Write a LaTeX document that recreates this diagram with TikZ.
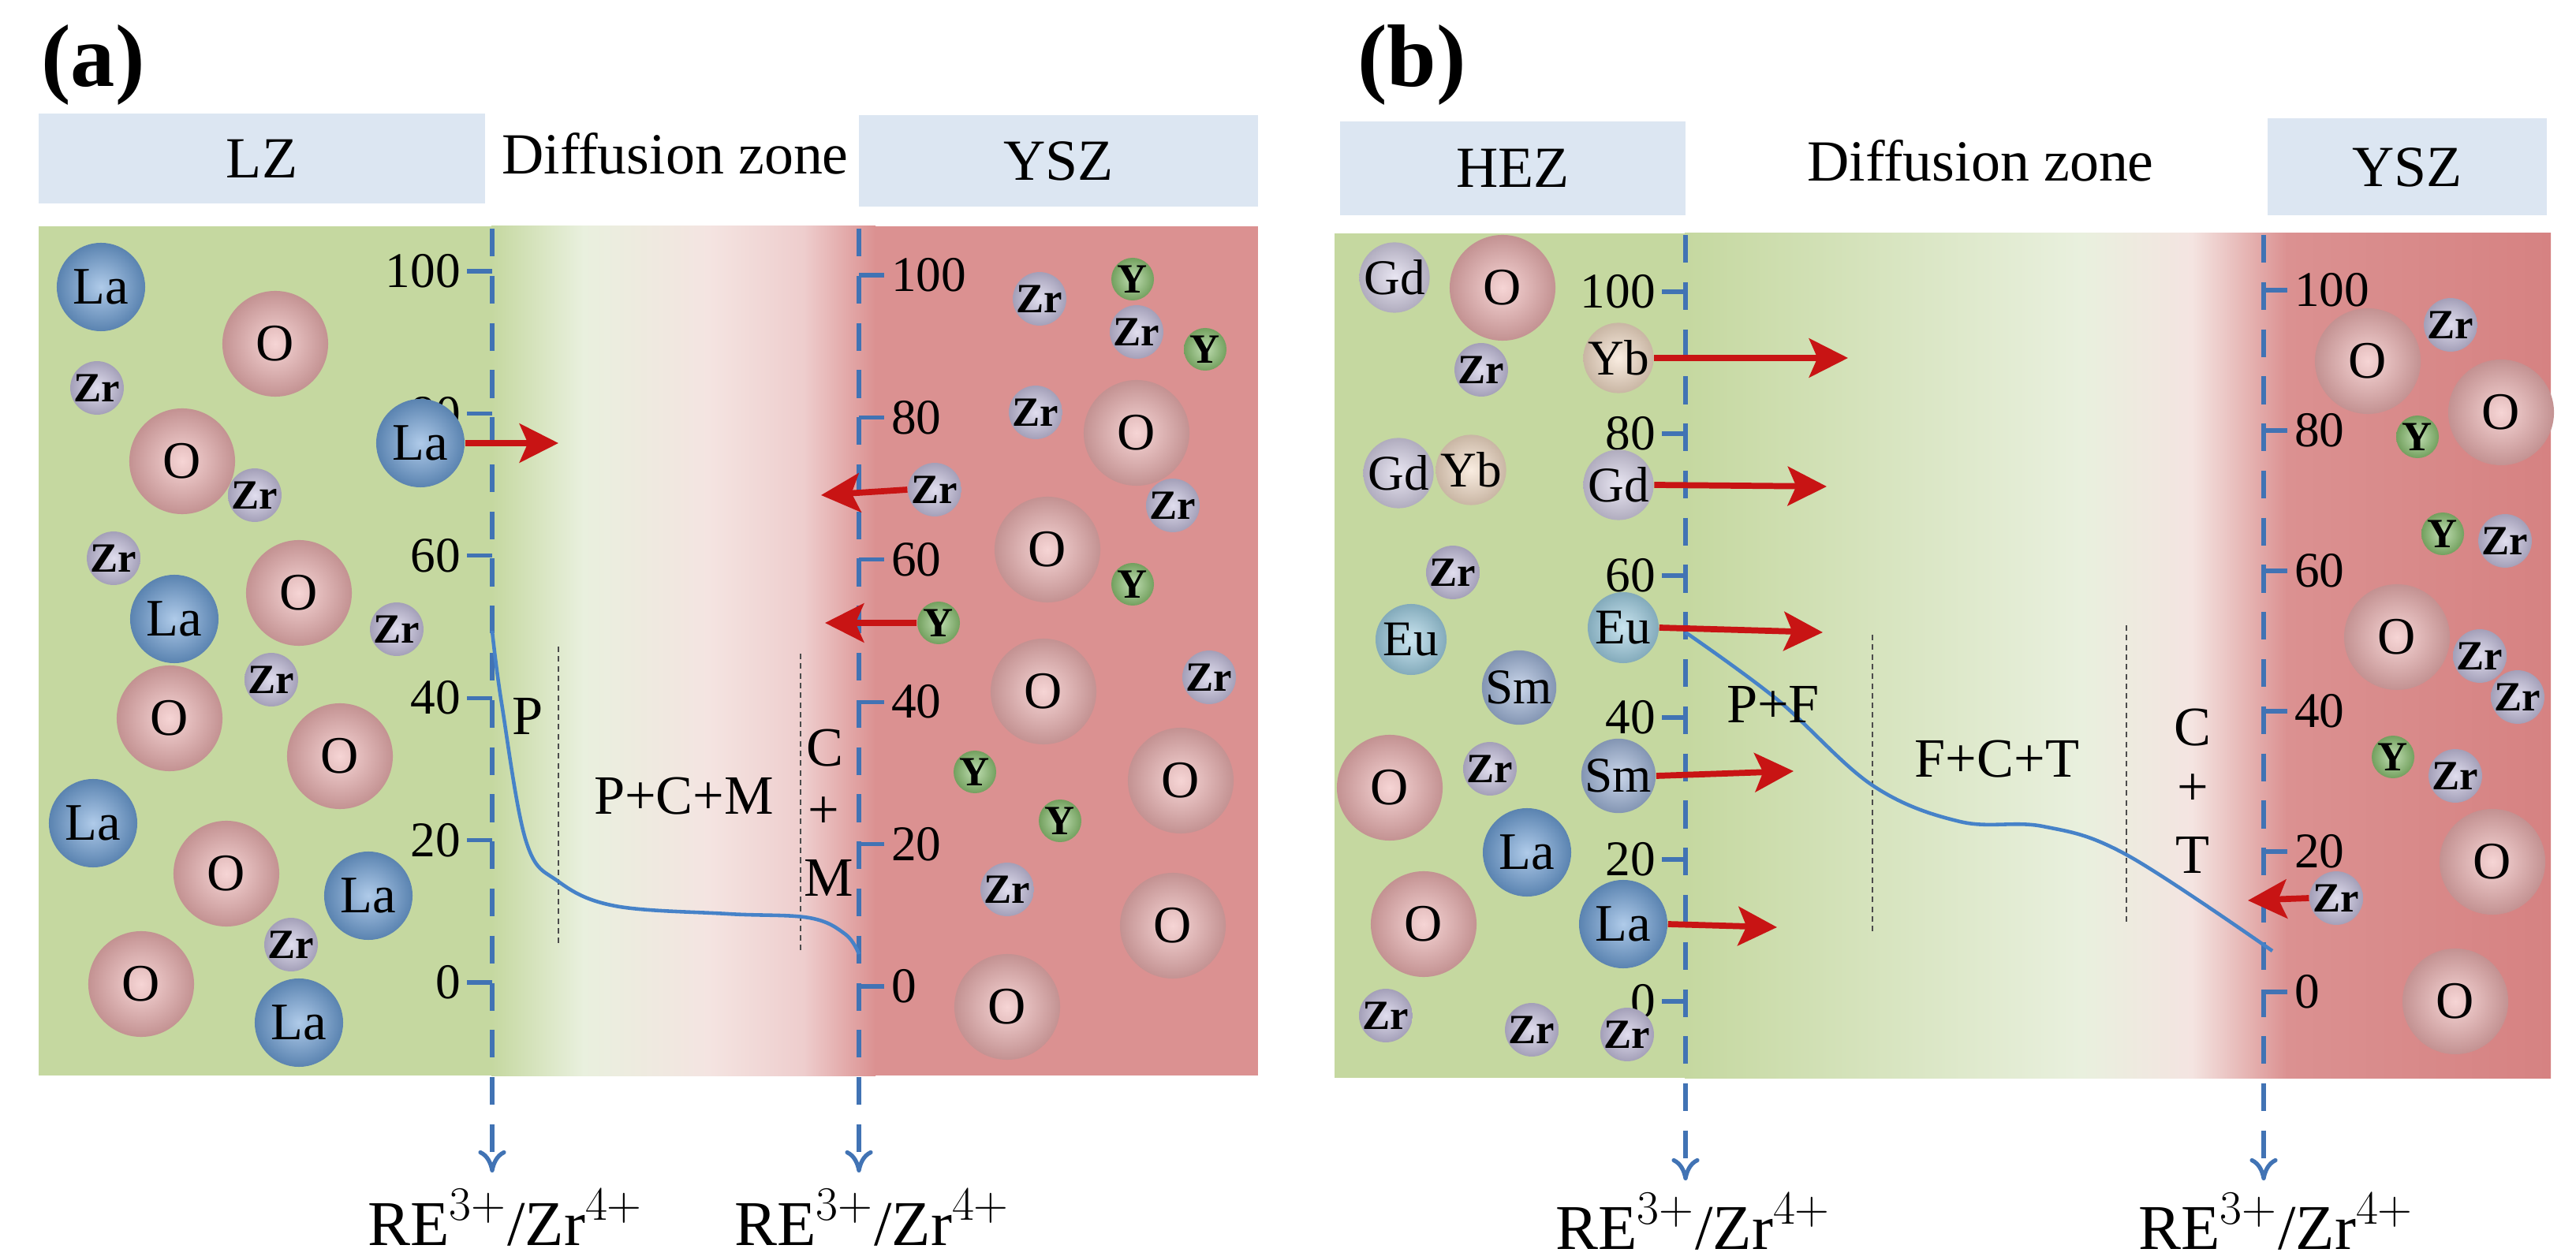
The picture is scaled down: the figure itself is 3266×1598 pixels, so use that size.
\documentclass[tikz,border=0pt]{standalone}
\usepackage{fontspec}
\setmainfont{Liberation Serif}
\usetikzlibrary{arrows.meta}
\definecolor{grn}{RGB}{197,216,160}
\definecolor{grnL}{RGB}{233,240,222}
\definecolor{pnkL}{RGB}{244,228,225}
\definecolor{pnk}{RGB}{238,205,205}
\definecolor{rd}{RGB}{219,145,145}
\definecolor{rdD}{RGB}{214,130,130}
\definecolor{hdr}{RGB}{220,230,242}
\definecolor{axb}{RGB}{65,115,180}
\definecolor{crv}{RGB}{70,130,200}
\definecolor{arr}{RGB}{200,20,20}
\definecolor{cLa}{RGB}{110,160,215}
\definecolor{cO}{RGB}{238,178,178}
\definecolor{cZr}{RGB}{200,195,225}
\definecolor{cY}{RGB}{140,195,115}
\definecolor{cGd}{RGB}{215,210,232}
\definecolor{cYb}{RGB}{245,222,200}
\definecolor{cEu}{RGB}{160,208,228}
\definecolor{cSm}{RGB}{160,182,218}
\newcommand{\fs}[1]{\fontsize{#1}{#1}\selectfont}
\tikzset{
 x=0.01cm,y=-0.01cm,
 hbox/.style={fill=hdr,draw=none},
 htxt/.style={font=\fs{21pt}},
 ball/.style={circle,inner sep=0pt,draw=none,shading=radial,inner color=#1!55!white,outer color=#1!82!black},
 La/.style={ball=cLa,minimum size=1.12cm,font=\fs{19pt}},
 O/.style={ball=cO,minimum size=1.34cm,font=\fs{19pt}},
 Zr/.style={ball=cZr,minimum size=0.5cm,font=\bfseries\fs{15pt}},
 Y/.style={ball=cY,minimum size=0.54cm,font=\bfseries\fs{15pt}},
 Gd/.style={ball=cGd,minimum size=0.8cm,font=\fs{18pt}},
 Yb/.style={ball=cYb,minimum size=0.76cm,font=\fs{18pt}},
 Eu/.style={ball=cEu,minimum size=0.9cm,font=\fs{18pt}},
 Sm/.style={ball=cSm,minimum size=0.94cm,font=\fs{18pt}},
 axis/.style={draw=axb,line width=1.5pt,dash pattern=on 10pt off 7pt,-{To[length=8pt,width=10pt]}},
 tick/.style={draw=axb,line width=1.5pt},
 tl/.style={font=\fs{18pt},inner sep=1pt},
 redarr/.style={draw=arr,line width=2.2pt,-{Stealth[length=14pt,width=14pt,inset=3pt]}},
 thin/.style={draw=black!70,line width=0.5pt,dash pattern=on 2pt off 1.5pt},
 curve/.style={draw=crv,line width=1.3pt},
 lab/.style={font=\fs{20pt},inner sep=0pt},
 re/.style={font=\fs{23pt}},
}
\begin{document}
\begin{tikzpicture}
\useasboundingbox (0,0) rectangle (3266,1598);
\fill[white] (0,0) rectangle (3266,1598);
% ================= panel (a) =================
\node[font=\bfseries\fs{32pt}] (ta) at (118,82) {(a)};
\fill[hbox] (49,144) rectangle (615,258);
\node[htxt] (tLZ) at (332,201) {LZ};
\node[htxt] (tDa) at (856,195) {Diffusion zone};
\fill[hbox] (1089,146) rectangle (1595,262);
\node[htxt] (tYa) at (1342,204) {YSZ};
\fill[grn] (49,287) rectangle (624,1364);
\shade[left color=grn,right color=grnL] (623,287) rectangle (740,1364);
\shade[left color=grnL,right color=pnkL] (739,287) rectangle (900,1364);
\shade[left color=pnkL,right color=pnk] (899,287) rectangle (1020,1364);
\shade[left color=pnk,right color=rd] (1019,287) rectangle (1110,1364);
\fill[rd] (1109,287) rectangle (1595,1364);
% axes
\coordinate (aL0) at (624,290); \coordinate (aL1) at (624,1487);
\coordinate (aR0) at (1089,290); \coordinate (aR1) at (1089,1487);
\draw[axis] (aL0) -- (aL1);
\draw[axis] (aR0) -- (aR1);
\foreach \v [count=\i from 0] in {0,20,40,60,80,100}{
  \draw[tick] (592,1246-180.4*\i) -- (624,1246-180.4*\i);
  \node[tl,anchor=east] (aLt\i) at (588,1246-180.4*\i) {\v};
  \draw[tick] (1089,1251-180.4*\i) -- (1121,1251-180.4*\i);
  \node[tl,anchor=west] (aRt\i) at (1126,1251-180.4*\i) {\v};
}
\node[re] (aRE1) at (641,1544) {RE$^{3+}$/Zr$^{4+}$};
\node[re] (aRE2) at (1106,1544) {RE$^{3+}$/Zr$^{4+}$};
% zone lines and curve
\draw[thin] (708,820) -- (708,1200);
\draw[thin] (1015,829) -- (1015,1210);
\draw[curve] plot[smooth,tension=0.6] coordinates {(624,800) (636,892) (667,1067) (708,1118) (780,1149) (923,1159) (1026,1164) (1072,1185) (1089,1210)};
\node[lab] (aP) at (669,908) {P};
\node[lab] (aPCM) at (867,1010) {P+C+M};
\node[lab] (aC) at (1046,949) {C};
\node[lab] (aPl) at (1044,1031) {+};
\node[lab] (aM) at (1051,1113) {M};
% balls left
\foreach \x/\y [count=\i] in {128/364,533/562,221/785,118/1044,467/1136,379/1297}
  \node[La] (aLa\i) at (\x,\y) {La};
\foreach \x/\y [count=\i] in {349/436,231/585,379/752,215/911,431/959,287/1108,179/1248,1441/549,1328/697,1323/877,1497/990,1487/1174,1277/1277}
  \node[O] (aO\i) at (\x,\y) {O};
\foreach \x/\y [count=\i] in {123/492,323/628,144/708,503/798,344/862,369/1198,1318/379,1441/421,1313/523,1185/621,1487/641,1533/859,1277/1128}
  \node[Zr] (aZr\i) at (\x,\y) {Zr};
\foreach \x/\y [count=\i] in {1436/354,1528/443,1436/741,1190/790,1236/979,1344/1041}
  \node[Y] (aY\i) at (\x,\y) {Y};
\coordinate (aA1) at (708,562);
\coordinate (aA2) at (1041,628);
\coordinate (aA3) at (1046,790);
\draw[redarr] (aLa2.east) -- (aA1);
\draw[redarr] (aZr10.west) -- (aA2);
\draw[redarr] (aY4.west) -- (aA3);
% ================= panel (b) =================
\node[font=\bfseries\fs{32pt}] (tb) at (1790,82) {(b)};
\fill[hbox] (1699,154) rectangle (2137,273);
\node[htxt] (tHEZ) at (1918,213) {HEZ};
\node[htxt] (tDb) at (2511,204) {Diffusion zone};
\fill[hbox] (2875,150) rectangle (3229,273);
\node[htxt] (tYb) at (3052,212) {YSZ};
\fill[grn] (1692,296) rectangle (2137,1367);
\shade[left color=grn,right color=grnL] (2136,296) rectangle (2640,1367);
\shade[left color=grnL,right color=pnkL] (2639,296) rectangle (2780,1367);
\shade[left color=pnkL,right color=rd] (2779,296) rectangle (2900,1367);
\shade[left color=rd,right color=rdD] (2899,296) rectangle (3234,1367);
\coordinate (bL0) at (2137,298); \coordinate (bL1) at (2137,1497);
\coordinate (bR0) at (2870,298); \coordinate (bR1) at (2870,1497);
\draw[axis] (bL0) -- (bL1);
\draw[axis] (bR0) -- (bR1);
\foreach \v [count=\i from 0] in {0,20,40,60,80,100}{
  \draw[tick] (2107,1270-180*\i) -- (2137,1270-180*\i);
  \node[tl,anchor=east] (bLt\i) at (2103,1270-180*\i) {\v};
  \draw[tick] (2870,1258-178*\i) -- (2900,1258-178*\i);
  \node[tl,anchor=west] (bRt\i) at (2905,1258-178*\i) {\v};
}
\node[re] (bRE1) at (2147,1549) {RE$^{3+}$/Zr$^{4+}$};
\node[re] (bRE2) at (2886,1549) {RE$^{3+}$/Zr$^{4+}$};
\draw[thin] (2374,805) -- (2374,1185);
\draw[thin] (2696,793) -- (2696,1172);
\draw[curve] plot[smooth,tension=0.6] coordinates {(2137,802) (2253,887) (2374,996) (2485,1042) (2590,1048) (2696,1084) (2881,1206)};
\node[lab] (bPF) at (2248,893) {P+F};
\node[lab] (bFCT) at (2532,963) {F+C+T};
\node[lab] (bC) at (2780,923) {C};
\node[lab] (bPl) at (2780,1002) {+};
\node[lab] (bT) at (2780,1084) {T};
% balls
\foreach \x/\y [count=\i] in {1768/352,1773/600,2052/615}
  \node[Gd] (bGd\i) at (\x,\y) {Gd};
\foreach \x/\y [count=\i] in {2052/454,1865/596}
  \node[Yb] (bYb\i) at (\x,\y) {Yb};
\foreach \x/\y [count=\i] in {1789/811,2058/796}
  \node[Eu] (bEu\i) at (\x,\y) {Eu};
\foreach \x/\y [count=\i] in {1926/872,2052/984}
  \node[Sm] (bSm\i) at (\x,\y) {Sm};
\foreach \x/\y [count=\i] in {1936/1081,2058/1172}
  \node[La] (bLa\i) at (\x,\y) {La};
\foreach \x/\y [count=\i] in {1905/365,1762/999,1805/1172,3002/458,3171/523,3039/808,3160/1093,3113/1270}
  \node[O] (bO\i) at (\x,\y) {O};
\foreach \x/\y [count=\i] in {1878/469,1842/726,1889/975,1757/1288,1942/1306,2063/1312,3107/412,3176/686,3144/832,3192/884,3113/984,2962/1139}
  \node[Zr] (bZr\i) at (\x,\y) {Zr};
\foreach \x/\y [count=\i] in {3065/554,3097/677,3034/960}
  \node[Y] (bY\i) at (\x,\y) {Y};
\coordinate (bA1) at (2343,454);
\coordinate (bA2) at (2316,617);
\coordinate (bA3) at (2311,802);
\coordinate (bA4) at (2274,978);
\coordinate (bA5) at (2253,1176);
\coordinate (bA6) at (2850,1142);
\draw[redarr] (bYb1.east) -- (bA1);
\draw[redarr] (bGd3.east) -- (bA2);
\draw[redarr] (bEu2.east) -- (bA3);
\draw[redarr] (bSm2.east) -- (bA4);
\draw[redarr] (bLa2.east) -- (bA5);
\draw[redarr] (bZr12.west) -- (bA6);
\end{tikzpicture}
\end{document}
